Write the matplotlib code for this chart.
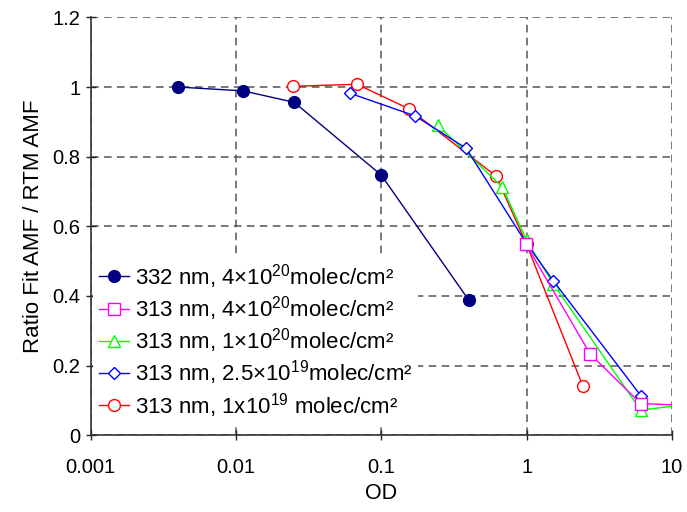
import numpy as np
import matplotlib
matplotlib.use("Agg")
import matplotlib.pyplot as plt
from matplotlib.ticker import FuncFormatter, NullLocator

plt.rcParams['font.family'] = ['Liberation Sans', 'DejaVu Sans']
plt.rcParams['mathtext.fontset'] = 'custom'
plt.rcParams['mathtext.rm'] = 'Liberation Sans'
plt.rcParams['mathtext.it'] = 'Liberation Sans'

# data
od_332_4e20 = [0.004, 0.0112, 0.0252, 0.1, 0.40]
ratio_332_4e20 = [1.0, 0.989, 0.956, 0.747, 0.388]

od_313_4e20 = [0.99, 2.74, 6.1, 15]
ratio_313_4e20 = [0.549, 0.233, 0.091, 0.084]

od_313_1e20 = [0.244, 0.68, 1.0, 1.53, 6.1, 15]
ratio_313_1e20 = [0.891, 0.713, 0.56, 0.434, 0.072, 0.092]

od_313_25e19 = [0.061, 0.171, 0.384, 1.0, 1.53, 6.1]
ratio_313_25e19 = [0.982, 0.917, 0.824, 0.55, 0.443, 0.114]

od_313_1e19 = [0.0245, 0.068, 0.154, 0.618, 1.0, 2.44]
ratio_313_1e19 = [1.002, 1.008, 0.938, 0.744, 0.548, 0.141]

labels = ['332 nm, 4×10$^{20}$molec/cm²',
          '313 nm, 4×10$^{20}$molec/cm²',
          '313 nm, 1×10$^{20}$molec/cm²',
          '313 nm, 2.5×10$^{19}$molec/cm²',
          '313 nm, 1x10$^{19}$ molec/cm²']

fig = plt.figure(figsize=(6.87, 5.12), dpi=100)
ax = fig.add_axes([0.132, 0.150, 0.846, 0.816])

ax.plot(od_332_4e20, ratio_332_4e20, '-o', color='#000080', mfc='#000080', mec='#000080', ms=8.5, lw=1, label=labels[0], zorder=5)
ax.plot(od_313_4e20, ratio_313_4e20, '-s', color='#FF00FF', mfc='white', mec='#FF00FF', ms=8.5, lw=1, label=labels[1], zorder=6)
ax.plot(od_313_1e20, ratio_313_1e20, '-^', color='#00FF00', mfc='white', mec='#00FF00', ms=8.5, lw=1, label=labels[2], zorder=4)
ax.plot(od_313_25e19, ratio_313_25e19, '-D', color='#0000FF', mfc='white', mec='#0000FF', ms=6.5, lw=1, label=labels[3], zorder=4)
ax.plot(od_313_1e19, ratio_313_1e19, '-o', color='#FF0000', mfc='white', mec='#FF0000', ms=8.5, lw=1, label=labels[4], zorder=3)

ax.set_xscale('log')
ax.set_xlim(0.001, 10)
ax.set_ylim(0, 1.2)
ax.set_yticks([0, 0.2, 0.4, 0.6, 0.8, 1.0, 1.2])
ax.xaxis.set_minor_locator(NullLocator())
fmt = FuncFormatter(lambda v, p: '{:g}'.format(round(v, 4)))
ax.xaxis.set_major_formatter(fmt)
ax.yaxis.set_major_formatter(fmt)
ax.tick_params(direction='inout', length=7, width=1, labelsize=14.5, colors='#222222')
ax.tick_params(axis='y', labelcolor='black', pad=4)
ax.tick_params(axis='x', labelcolor='black', pad=13)

ax.grid(True, color='#555555', linestyle=(0, (5, 3.5)), linewidth=1.1)
ax.set_axisbelow(True)
for s in ['top', 'right']:
    ax.spines[s].set_visible(False)
for s in ['left', 'bottom']:
    ax.spines[s].set_color('#333333')
    ax.spines[s].set_linewidth(1.2)
    ax.spines[s].set_zorder(3)

ax.set_xlabel('OD', fontsize=15.5, labelpad=4)
ax.set_ylabel('Ratio Fit AMF / RTM AMF', fontsize=16, labelpad=6)

leg = ax.legend(loc='lower left', bbox_to_anchor=(-0.007, 0.007), frameon=True, fontsize=16,
                handlelength=1.35, handletextpad=0.25, labelspacing=0.15, borderaxespad=0.3,
                borderpad=0.27, fancybox=False, facecolor='white', edgecolor='none', framealpha=1)
leg.set_zorder(2.5)

fig.savefig('out.png', dpi=100)
